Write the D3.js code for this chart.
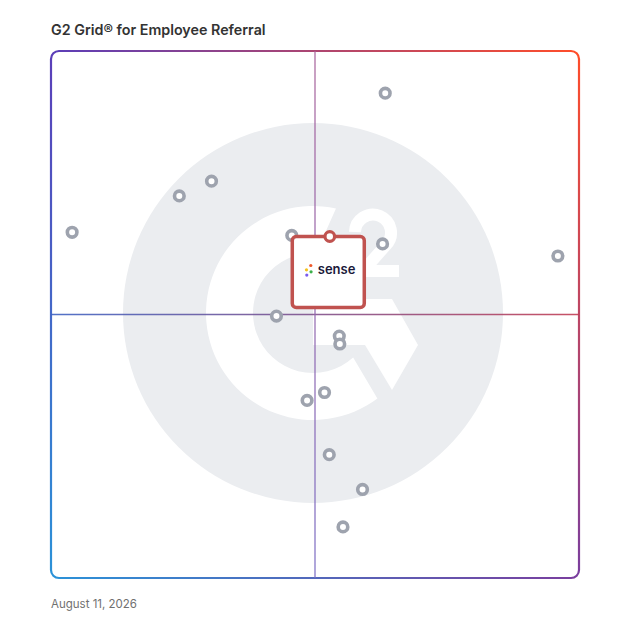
<!DOCTYPE html>
<html>
<head>
<meta charset="utf-8">
<script src="https://cdn.jsdelivr.net/npm/d3@7"></script>
<style>
  html, body { margin: 0; padding: 0; background: #ffffff; }
  svg { display: block; }
</style>
</head>
<body>
<svg id="chart" width="628" height="628"></svg>
<script>
// ---- data (market presence x, satisfaction y; 0-100 grid scale) ----
const products      = ["P1","P2","P3","P4","P5","P6","P7","P8","P9","P10","P11","P12","P13","P14","P15"];
const marketPresence = [63.3, 4.0, 24.3, 30.4, 45.6, 62.8, 96.0, 42.7, 54.6, 54.7, 51.8, 48.5, 52.7, 59.0, 55.3];
const satisfaction   = [92.0, 65.6, 72.5, 75.3, 65.0, 63.4, 61.1, 49.7, 45.9, 44.4, 35.2, 33.7, 23.4, 16.8, 9.7];
const featuredName = "sense";
const featuredX = 52.8;
const featuredY = 64.8;
const titleText = "G2 Grid\u00AE for Employee Referral";
const dateText = "August 11, 2026";

const svg = d3.select("#chart");
const frame = { left: 51, right: 579, top: 51, bottom: 578 };

const x = d3.scaleLinear().domain([0, 100]).range([frame.left, frame.right]);
const y = d3.scaleLinear().domain([0, 100]).range([frame.bottom, frame.top]);

const defs = svg.append("defs");
function lin(id, x1, y1, x2, y2, c1, c2) {
  const g = defs.append("linearGradient").attr("id", id)
    .attr("gradientUnits", "userSpaceOnUse")
    .attr("x1", x1).attr("y1", y1).attr("x2", x2).attr("y2", y2);
  g.append("stop").attr("offset", "0%").attr("stop-color", c1);
  g.append("stop").attr("offset", "100%").attr("stop-color", c2);
}
const TL = "#5b3eb8", TR = "#ff4d2a", BL = "#2b92d8", BR = "#7a3e9e";
const L = frame.left, R = frame.right, T = frame.top, B = frame.bottom, rc = 8;
lin("gTop", L, T, R, T, TL, TR);
lin("gBottom", L, B, R, B, BL, BR);
lin("gLeft", L, T, L, B, TL, BL);
lin("gRight", R, T, R, B, TR, BR);
lin("gH", L, 0, R, 0, "#3f63c2", "#c23f55");
lin("gV", 0, T, 0, B, "#a8619a", "#7a6cc4");

// ---- title ----
svg.append("text").attr("x", 51).attr("y", 35)
  .attr("font-family", "Inter, 'Open Sans', sans-serif")
  .attr("font-weight", 600).attr("font-size", 14.3)
  .attr("fill", "#333333").text(titleText);

// ---- G2 watermark logo (decoration) ----
const cx = (L + R) / 2 - 2, cy = (T + B) / 2 - 1.5, k = 1;
const logo = svg.append("g").attr("transform", `translate(${cx},${cy}) scale(${k})`);
logo.append("circle").attr("r", 190).attr("fill", "#ebedf0");
const ro = 107, ri = 60;
const ang = a => a * Math.PI / 180;
const pt = (r, a) => [r * Math.cos(ang(a)), r * Math.sin(ang(a))];
const oT = pt(ro, -77.6), oB = pt(ro, 53), iB = pt(ri, 48), iT = pt(ri, -87);
logo.append("path").attr("fill", "#ffffff")
  .attr("d", `M${oT} A${ro},${ro} 0 1 0 ${oB} L${iB} A${ri},${ri} 0 1 1 ${iT} Z`);
logo.append("path").attr("fill", "#ffffff")
  .attr("d", "M0,-14 L79,-14 L105,32 L79,77 L52,32 L0,32 Z");
logo.append("path").attr("fill", "none").attr("stroke", "#ffffff")
  .attr("stroke-width", 12).attr("stroke-linejoin", "miter")
  .attr("d", "M42,-81 A18,18 0 1 1 73,-68 L50,-42 H86");

// ---- frame border ----
const border = svg.append("g").attr("fill", "none").attr("stroke-width", 2.2);
border.append("path").attr("stroke", "url(#gTop)").attr("d", `M${L + rc},${T} H${R - rc}`);
border.append("path").attr("stroke", "url(#gBottom)").attr("d", `M${L + rc},${B} H${R - rc}`);
border.append("path").attr("stroke", "url(#gLeft)").attr("d", `M${L},${T + rc} V${B - rc}`);
border.append("path").attr("stroke", "url(#gRight)").attr("d", `M${R},${T + rc} V${B - rc}`);
border.append("path").attr("stroke", TL).attr("d", `M${L},${T + rc} A${rc},${rc} 0 0 1 ${L + rc},${T}`);
border.append("path").attr("stroke", TR).attr("d", `M${R - rc},${T} A${rc},${rc} 0 0 1 ${R},${T + rc}`);
border.append("path").attr("stroke", BR).attr("d", `M${R},${B - rc} A${rc},${rc} 0 0 1 ${R - rc},${B}`);
border.append("path").attr("stroke", BL).attr("d", `M${L + rc},${B} A${rc},${rc} 0 0 1 ${L},${B - rc}`);

// ---- quadrant midlines ----
svg.append("line").attr("x1", x(0)).attr("x2", x(100)).attr("y1", y(50)).attr("y2", y(50))
  .attr("stroke", "url(#gH)").attr("stroke-width", 1.6).attr("opacity", 0.9);
svg.append("line").attr("x1", x(50)).attr("x2", x(50)).attr("y1", y(100)).attr("y2", y(0))
  .attr("stroke", "url(#gV)").attr("stroke-width", 1.6).attr("opacity", 0.75);

// ---- product points ----
const pts = products.map((p, i) => ({ name: p, mx: marketPresence[i], sy: satisfaction[i] }));
svg.append("g").selectAll("circle").data(pts).join("circle")
  .attr("cx", d => x(d.mx)).attr("cy", d => y(d.sy))
  .attr("r", 4.8).attr("fill", "#ffffff")
  .attr("stroke", "#9ea3ae").attr("stroke-width", 3.6);

// ---- featured product box ----
const fx = x(featuredX), fy = y(featuredY);
const boxW = 72, boxH = 71;
const fg = svg.append("g");
fg.append("rect").attr("x", fx - boxW / 2 - 1.5).attr("y", fy).attr("width", boxW).attr("height", boxH)
  .attr("rx", 4).attr("fill", "#ffffff").attr("stroke", "#c0524f").attr("stroke-width", 3.5);
// sense logo dots
const dots = [[-19, 29, "#f0592a"], [-23.3, 33.3, "#f5c21b"], [-18.7, 35.3, "#3cb04a"], [-23, 38.6, "#7a5cf0"]];
fg.selectAll("circle.dot").data(dots).join("circle").attr("class", "dot")
  .attr("cx", d => fx + d[0]).attr("cy", d => fy + d[1]).attr("r", 1.6).attr("fill", d => d[2]);
fg.append("text").attr("x", fx - 12).attr("y", fy + 37.5)
  .attr("font-family", "Inter, 'Open Sans', sans-serif").attr("font-weight", 600)
  .attr("font-size", 13).attr("fill", "#1b1a3a").text(featuredName);
fg.append("circle").attr("cx", fx).attr("cy", fy).attr("r", 4.8)
  .attr("fill", "#ffffff").attr("stroke", "#c0524f").attr("stroke-width", 3.2);

// ---- date ----
svg.append("text").attr("x", 51).attr("y", 608)
  .attr("font-family", "Inter, 'Open Sans', sans-serif")
  .attr("font-size", 11.5).attr("fill", "#707070").text(dateText);
</script>
</body>
</html>
